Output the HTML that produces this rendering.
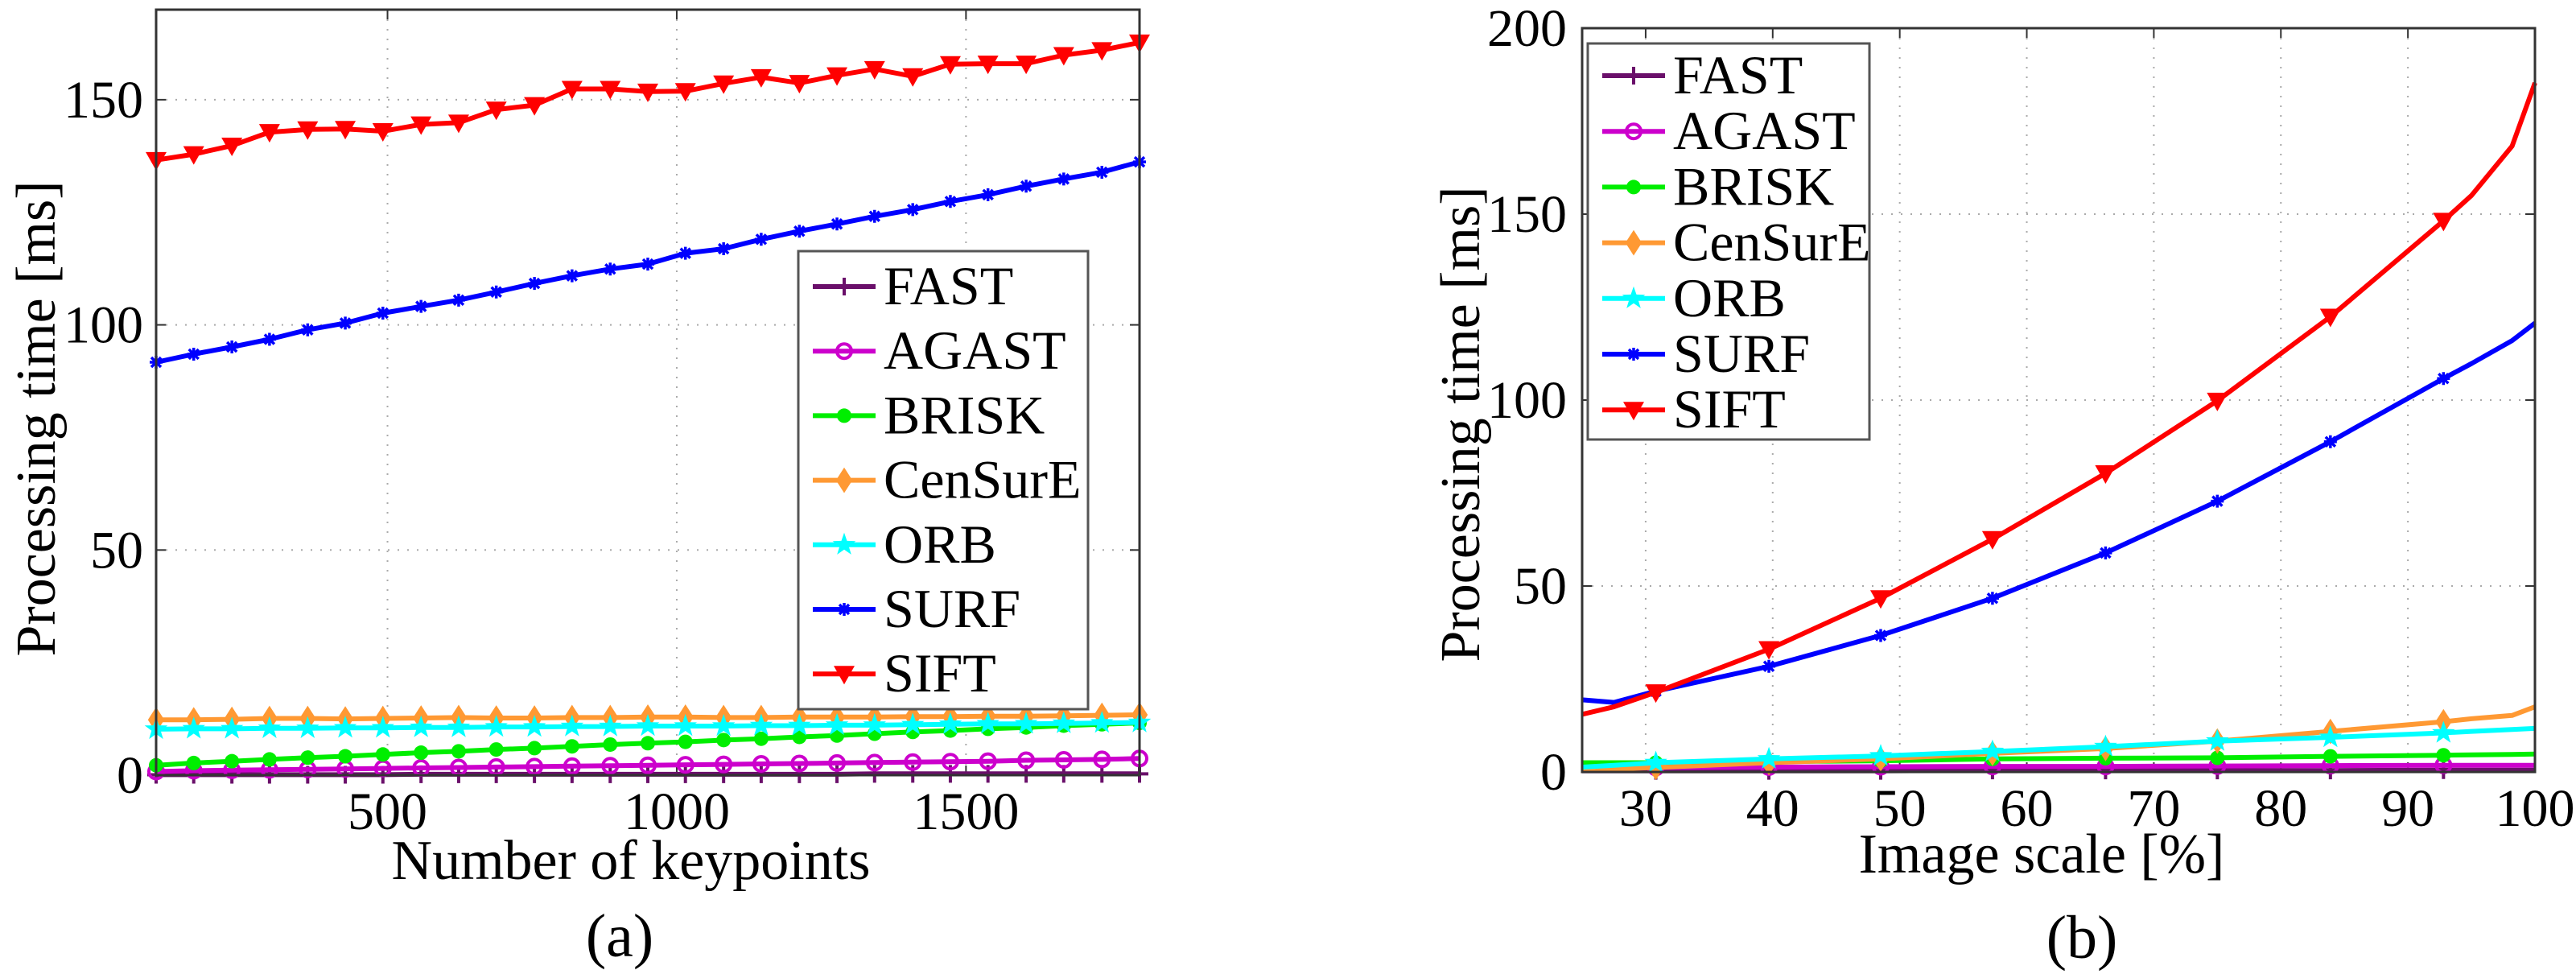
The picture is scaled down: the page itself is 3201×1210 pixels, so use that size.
<!DOCTYPE html>
<html><head><meta charset="utf-8"><style>
html,body{margin:0;padding:0;background:#fff;}
svg{display:block;}
svg text{font-family:"Liberation Serif","Times New Roman",Times,"DejaVu Serif",serif;}
</style></head><body>
<svg id="fig" width="3201" height="1210" viewBox="0 0 3201 1210" xmlns="http://www.w3.org/2000/svg"></svg>
<script>
// ---- Chart (a) data ----
const aX = [100,165,231,296,362,427,492,558,623,688,754,819,885,950,1015,1081,1146,1212,1277,1342,1408,1473,1538,1604,1669,1735,1800];
const aSIFT = [136.6,137.9,139.8,142.8,143.4,143.5,143.0,144.5,144.9,147.8,148.8,152.4,152.4,151.8,151.9,153.6,155.0,153.7,155.4,156.8,155.2,157.9,158.0,158.0,159.9,161.0,162.7];
const aSURF = [91.7,93.5,95.1,96.8,98.9,100.4,102.6,104.1,105.5,107.3,109.2,110.9,112.4,113.5,115.9,116.9,119.0,120.8,122.4,124.1,125.6,127.4,128.9,130.8,132.4,133.9,136.2];
const aCENSURE = [12.3,12.3,12.4,12.6,12.6,12.5,12.6,12.7,12.8,12.7,12.7,12.8,12.8,12.9,12.9,12.8,12.8,12.9,12.9,12.9,13.0,13.0,13.1,13.1,13.2,13.3,13.4];
const aORB = [10.2,10.3,10.3,10.4,10.4,10.5,10.5,10.6,10.6,10.7,10.7,10.8,10.8,10.9,10.9,10.9,11.0,11.0,11.1,11.1,11.2,11.3,11.4,11.4,11.5,11.6,11.7];
const aBRISK = [2.2,2.7,3.1,3.5,3.9,4.2,4.6,5.0,5.3,5.7,6.0,6.4,6.8,7.1,7.4,7.8,8.1,8.5,8.8,9.2,9.6,9.9,10.3,10.6,11.0,11.3,11.6];
const aAGAST = [0.8,1.0,1.1,1.2,1.3,1.4,1.5,1.6,1.7,1.8,1.9,2.0,2.1,2.2,2.3,2.4,2.5,2.6,2.7,2.8,2.9,3.0,3.1,3.3,3.4,3.5,3.7];
const aFAST = [0.1,0.1,0.1,0.1,0.1,0.1,0.1,0.2,0.2,0.2,0.2,0.2,0.2,0.2,0.2,0.2,0.2,0.2,0.2,0.3,0.3,0.3,0.3,0.3,0.3,0.3,0.3];
const aXTicks = [500,1000,1500];
const aYTicks = [0,50,100,150];
// ---- Chart (b) data ----
const bX = [25,27.5,30.8,39.7,48.5,57.3,66.2,75,83.9,92.8,95,98.2,100];
const bMarkIdx = [2,3,4,5,6,7,8,9];
const bSIFT = [15.5,17.5,21.4,33,46.7,62.6,80.3,99.8,122.4,148.2,155,168.3,185.3];
const bSURF = [19.4,18.7,21.7,28.4,36.7,46.7,58.9,72.8,88.8,105.8,109.8,116,120.7];
const bCENSURE = [0.5,0.8,1.2,2.5,3.5,5,6.3,8.3,10.9,13.5,14.3,15.2,17.5];
const bORB = [1.3,1.8,2.5,3.5,4.3,5.5,6.8,8.3,9.3,10.5,10.9,11.4,11.7];
const bBRISK = [2.5,2.5,2.5,2.8,3,3.5,3.7,3.8,4.2,4.5,4.6,4.7,4.8];
const bAGAST = [1.2,1.2,1.2,1.3,1.4,1.5,1.5,1.6,1.7,1.8,1.8,1.8,1.8];
const bFAST = [0.3,0.3,0.3,0.3,0.3,0.4,0.4,0.4,0.4,0.5,0.5,0.5,0.5];
const bXTicks = [30,40,50,60,70,80,90,100];
const bYTicks = [0,50,100,150,200];
const names = ["FAST","AGAST","BRISK","CenSurE","ORB","SURF","SIFT"];
const colors = ["#6a0f6a","#cc00cc","#00ee00","#ff9933","#00ffff","#0000ff","#ff0000"];
const markers = ["plus","circle","dot","diamond","star","asterisk","tri"];

const NS="http://www.w3.org/2000/svg";
const svg=document.getElementById('fig');
function el(tag,attrs,parent){const e=document.createElementNS(NS,tag);for(const k in attrs)e.setAttribute(k,attrs[k]);(parent||svg).appendChild(e);return e;}
function txt(s,attrs,parent){const t=el('text',attrs,parent);t.style.fontFamily='"Liberation Serif","Times New Roman",Times,serif';t.textContent=s;return t;}

function marker(type,x,y,c,g){
  const s=11;
  if(type==="plus"){el('path',{d:`M${x-s} ${y}H${x+s}M${x} ${y-s}V${y+s}`,stroke:c,'stroke-width':4,fill:'none'},g);}
  else if(type==="circle"){el('circle',{cx:x,cy:y,r:9,fill:'none',stroke:c,'stroke-width':4},g);}
  else if(type==="dot"){el('circle',{cx:x,cy:y,r:9,fill:c},g);}
  else if(type==="diamond"){el('path',{d:`M${x} ${y-14}L${x+9} ${y}L${x} ${y+14}L${x-9} ${y}Z`,fill:c,stroke:c,'stroke-width':2},g);}
  else if(type==="star"){let d='';for(let i=0;i<10;i++){const r=i%2?6:15,a=-Math.PI/2+i*Math.PI/5;d+=(i?'L':'M')+(x+r*Math.cos(a)).toFixed(1)+' '+(y+r*Math.sin(a)).toFixed(1);}el('path',{d:d+'Z',fill:c},g);}
  else if(type==="asterisk"){el('path',{d:`M${x-8} ${y}H${x+8}M${x} ${y-8}V${y+8}M${x-6} ${y-6}L${x+6} ${y+6}M${x-6} ${y+6}L${x+6} ${y-6}`,stroke:c,'stroke-width':3.5},g);}
  else if(type==="tri"){el('path',{d:`M${x-13} ${y-10}H${x+13}L${x} ${y+13}Z`,fill:c},g);}
}

function chart(cfg){
  const g=el('g',{});
  
  
  const sx=v=>cfg.L+(v-cfg.xmin)/(cfg.xmax-cfg.xmin)*(cfg.R-cfg.L);
  const sy=v=>cfg.B-(v-cfg.ymin)/(cfg.ymax-cfg.ymin)*(cfg.B-cfg.T);
  const grid=el('g',{},g);
  
  
  cfg.xt.forEach(v=>{const x=sx(v);el('line',{x1:x,x2:x,y1:cfg.T,y2:cfg.B,stroke:'#aaa','stroke-width':2,'stroke-dasharray':'2 10'},grid);
    el('line',{x1:x,x2:x,y1:cfg.B,y2:cfg.B-12,stroke:'#333','stroke-width':2},grid);el('line',{x1:x,x2:x,y1:cfg.T,y2:cfg.T+12,stroke:'#333','stroke-width':2},grid);
    const t=txt(String(v),{x:x,y:cfg.xtY,'font-size':66,'text-anchor':'middle'},g);
    
    });
  cfg.yt.forEach(v=>{const y=sy(v);el('line',{x1:cfg.L,x2:cfg.R,y1:y,y2:y,stroke:'#aaa','stroke-width':2,'stroke-dasharray':'2 10'},grid);
    el('line',{x1:cfg.L,x2:cfg.L+12,y1:y,y2:y,stroke:'#333','stroke-width':2},grid);el('line',{x1:cfg.R,x2:cfg.R-12,y1:y,y2:y,stroke:'#333','stroke-width':2},grid);
    const t=txt(String(v),{x:cfg.ytX,y:y+22,'font-size':66,'text-anchor':'end'},g);
    
    });
  const clip='clip'+cfg.name;
  const cp=el('clipPath',{id:clip},g);el('rect',{x:cfg.L-20,y:cfg.T,width:cfg.R-cfg.L+40,height:cfg.B-cfg.T+20},cp);
  const sg=el('g',{'clip-path':`url(#${clip})`},g);
  cfg.series.forEach((ys,i)=>{
    const s=el('g',{},sg);
    
    
    el('polyline',{points:cfg.xs.map((x,j)=>sx(x).toFixed(1)+','+sy(ys[j]).toFixed(1)).join(' '),fill:'none',stroke:colors[i],'stroke-width':6,'stroke-linejoin':'round'},s);
    cfg.mk.forEach(j=>marker(markers[i],sx(cfg.xs[j]),sy(ys[j]),colors[i],s));
  });
  const ax=el('rect',{x:cfg.L,y:cfg.T,width:cfg.R-cfg.L,height:cfg.B-cfg.T,fill:'none',stroke:'#333','stroke-width':3},g);
  
  
  const lg=el('g',{},g);
  
  
  el('rect',{x:cfg.lg.x,y:cfg.lg.y,width:cfg.lg.w,height:cfg.lg.h,fill:'#fff',stroke:'#555','stroke-width':3},lg);
  names.forEach((n,i)=>{
    const y=cfg.lg.y0+i*cfg.lg.dy;
    const e=el('g',{},lg);
    
    
    el('line',{x1:cfg.lg.lx,x2:cfg.lg.lx+78,y1:y,y2:y,stroke:colors[i],'stroke-width':6},e);
    marker(markers[i],cfg.lg.lx+39,y,colors[i],e);
    txt(n,{x:cfg.lg.lx+88,y:y+22,'font-size':68},e);
  });
  const xl=txt(cfg.xlabel,{x:cfg.xlX,y:cfg.xlY,'font-size':70,'text-anchor':'middle'},g);
  
  
  const yl=txt('Processing time [ms]',{x:0,y:0,'font-size':70,'text-anchor':'middle',transform:`translate(${cfg.ylX},${cfg.ylY}) rotate(-90)`},g);
  
  
  const cap=txt(cfg.cap,{x:cfg.capX,y:cfg.capY,'font-size':76,'text-anchor':'middle'},g);
  
  
}
chart({name:'chart-a',L:194,R:1416,T:12,B:963,xmin:100,xmax:1800,ymin:0,ymax:170,xs:aX,
  mk:aX.map((_,i)=>i),series:[aFAST,aAGAST,aBRISK,aCENSURE,aORB,aSURF,aSIFT],xt:aXTicks,yt:aYTicks,
  xtY:1030,ytX:178,lg:{x:992,y:312,w:360,h:569,y0:356,dy:80.2,lx:1010},
  xlabel:'Number of keypoints',xlX:784,xlY:1092,ylX:68,ylY:520,cap:'(a)',capX:770,capY:1188});
chart({name:'chart-b',L:1966,R:3150,T:35,B:959,xmin:25,xmax:100,ymin:0,ymax:200,xs:bX,
  mk:bMarkIdx,series:[bFAST,bAGAST,bBRISK,bCENSURE,bORB,bSURF,bSIFT],xt:bXTicks,yt:bYTicks,
  xtY:1026,ytX:1947,lg:{x:1973,y:54,w:350,h:492,y0:94,dy:69.2,lx:1991},
  xlabel:'Image scale [%]',xlX:2537,xlY:1084,ylX:1838,ylY:527,cap:'(b)',capX:2587,capY:1190});
</script>
</body></html>
